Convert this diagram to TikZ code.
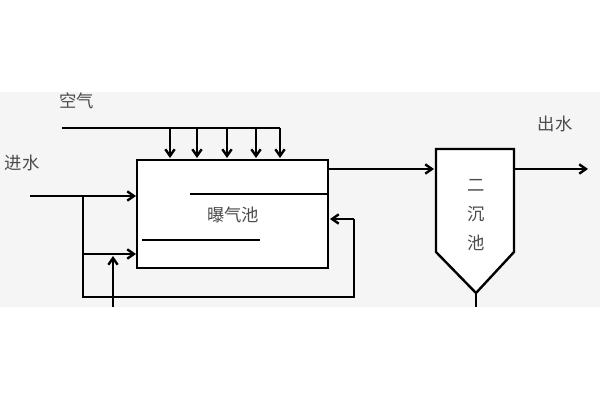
\documentclass[tikz,border=0pt]{standalone}
\usepackage{fontspec}
\setmainfont{Noto Sans CJK SC}
\usepackage{tikz}
\usetikzlibrary{arrows.meta}

\begin{document}
\begin{tikzpicture}[x=0.75pt,y=0.75pt,yscale=-1,xscale=1,
  pipe/.style={line width=1.8pt},
  flow/.style={line width=1.8pt,-{Straight Barb[length=5pt,width=7pt]}},
  label/.style={font=\fontsize{13}{15}\selectfont,text=black!70,inner sep=0.75pt}]
\useasboundingbox (0,0) rectangle (600,400);
%Band
\fill [black!4] (0,92) rectangle (600,307);

%Shape: Aeration tank
\draw [pipe,fill=white] (137,160) rectangle (328,268);
\coordinate (tankIn) at (136,196);
\coordinate (tankIn2) at (136,254);
\coordinate (tankRet) at (330,219);
\coordinate (tankOut) at (328,169);
%Baffles
\draw [pipe] (190,194) -- (328,194);
\draw [pipe] (142,240) -- (260,240);
\node [label] (tankTxt) at (233,215) {曝气池};

%Air
\node [label] (air) at (77,101) {空气};
\coordinate (airL) at (62,128);
\coordinate (airR) at (280,128);
\draw [pipe] (airL) -- (airR);
\foreach \x in {170,197,227,256,280}
  \draw [flow] (\x,128) -- (\x,158);

%Inflow
\node [label] (inTxt) at (22,163) {进水};
\coordinate (inL) at (30,196);
\coordinate (br) at (83,196);
\coordinate (brB) at (83,297);
\coordinate (brM) at (83,254);
\draw [flow] (inL) -- (tankIn);
\draw [flow] (brM) -- (tankIn2);
\draw [pipe] (br) -- (brB) -- (354,297) -- (354,219);
\draw [flow] (354,219) -- (tankRet);
\draw [flow] (113,307) -- (113,256);

%Clarifier
\draw [pipe,fill=white] (436,149) -- (514,149) -- (514,252) -- (476,293) -- (436,252) -- cycle;
\coordinate (clIn) at (434,169);
\coordinate (clOut) at (514,169);
\coordinate (clTip) at (476,293);
\draw [pipe] (clTip) -- (476,307);
\node [label,align=center,font=\fontsize{13}{22}\selectfont] (clTxt) at (476,215) {二\\沉\\池};
\draw [flow] (tankOut) -- (clIn);
\node [label] (outTxt) at (555,124) {出水};
\draw [flow] (clOut) -- (588,169);
\end{tikzpicture}
\end{document}
